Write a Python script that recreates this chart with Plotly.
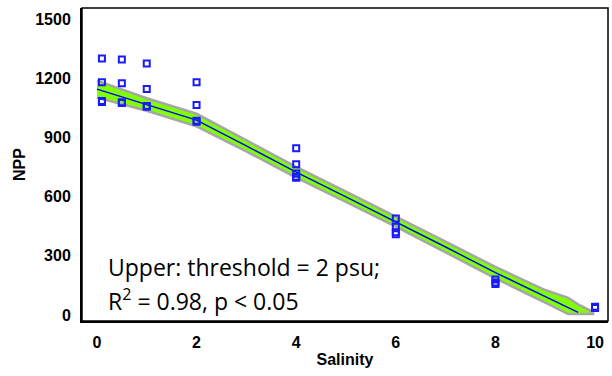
import plotly.graph_objects as go

# Observed data (salinity, NPP)
obs_x = [0.1, 0.1, 0.1, 0.1,
         0.5, 0.5, 0.5, 0.5,
         1, 1, 1, 1,
         2, 2, 2, 2,
         4, 4, 4, 4, 4,
         6, 6, 6, 6,
         8, 8, 8,
         10, 10]
obs_y = [1300, 1180, 1085, 1080,
         1295, 1175, 1078, 1075,
         1275, 1145, 1060, 1055,
         1180, 1064, 985, 980,
         845, 764, 718, 700, 696,
         490, 447, 420, 409,
         180, 165, 157,
         42, 36]

# Fitted threshold model line
fit_x = [0, 1, 2, 3, 4, 5, 6, 7, 8, 9, 9.66]
fit_y = [1145, 1067, 988, 857, 724, 599, 474, 345, 215, 95, 14]

# Confidence band
band_x = [0, 1, 2, 3, 4, 5, 6, 7, 8, 9, 9.46, 9.66, 9.96]
band_upper = [1188, 1099, 1020, 885, 751, 625, 500, 372, 244, 127, 87, 54, 15]
band_lower = [1102, 1035, 956, 829, 697, 573, 448, 318, 186, 63, 5, 5, 5]

x_ticks = [0, 2, 4, 6, 8, 10]
y_ticks = [0, 300, 600, 900, 1200, 1500]

fig = go.Figure()

fig.add_trace(go.Scatter(
    x=band_x + band_x[::-1],
    y=band_upper + band_lower[::-1],
    fill="toself", fillcolor="#80ff00",
    line=dict(color="#a6a6a6", width=2.5),
    mode="lines", hoverinfo="skip", showlegend=False))

fig.add_trace(go.Scatter(
    x=fit_x, y=fit_y, mode="lines",
    line=dict(color="#0000ff", width=1.5), showlegend=False))

fig.add_trace(go.Scatter(
    x=obs_x, y=obs_y, mode="markers",
    marker=dict(symbol="square-open", size=6, color="#1a1aff",
                line=dict(color="#1a1aff", width=2)),
    showlegend=False))

tickfont = dict(family="Liberation Sans, Arial", size=16, color="black")

fig.update_layout(
    width=612, height=376,
    margin=dict(l=82, r=4, t=8, b=55),
    paper_bgcolor="white", plot_bgcolor="white",
    xaxis=dict(range=[-0.3, 10.26], tickvals=x_ticks,
               ticktext=[f"<b>{v}</b>" for v in x_ticks],
               tickfont=tickfont, showgrid=False, zeroline=False,
               showline=True, linecolor="black", linewidth=2,
               ticks="", ticklabelstandoff=6,
               title=dict(text="<b>Salinity</b>", standoff=4,
                          font=dict(family="Liberation Sans, Arial", size=16, color="black"))),
    yaxis=dict(range=[-30, 1556], tickvals=y_ticks,
               ticktext=[f"<b>{v}</b>" for v in y_ticks],
               tickfont=tickfont, showgrid=False, zeroline=False,
               showline=True, linecolor="black", linewidth=2,
               ticks="", ticklabelstandoff=6,
               title=dict(text="<b>NPP</b>", standoff=6,
                          font=dict(family="Liberation Sans, Arial", size=16, color="black"))),
    shapes=[dict(type="rect", xref="paper", yref="paper", x0=0, y0=0, x1=1, y1=1,
                 line=dict(color="black", width=1.5))],
    annotations=[
        dict(text="Upper: threshold = 2 psu;", xref="paper", yref="paper",
             x=0.0456, y=0.1725, xanchor="left", yanchor="middle", showarrow=False,
             font=dict(family="Open Sans", size=23, color="black")),
        dict(text="R<sup>2</sup> = 0.98, p < 0.05", xref="paper", yref="paper",
             x=0.0456, y=0.067, xanchor="left", yanchor="middle", showarrow=False,
             font=dict(family="Open Sans", size=23, color="black")),
    ],
)

fig.write_html("out.html")
